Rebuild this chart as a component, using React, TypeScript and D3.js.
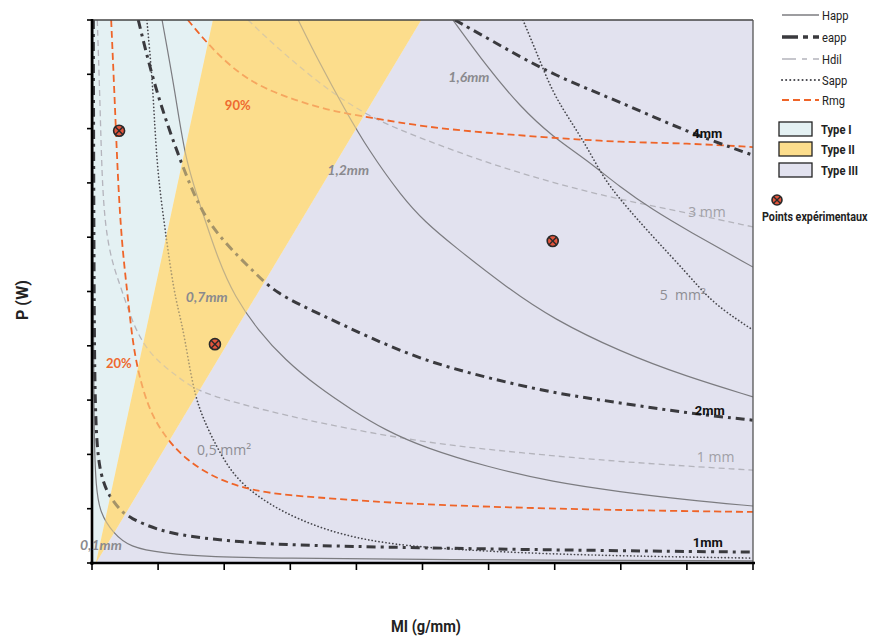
import React from 'react';
import * as d3 from 'd3';

type Pt = [number, number];

// ---------- data (in axis units 0..10) ----------
const xTicks: number[] = [0, 1, 2, 3, 4, 5, 6, 7, 8, 9, 10];
const yTicks: number[] = [0, 1, 2, 3, 4, 5, 6, 7, 8, 9, 10];

const happ01: Pt[] = [[0.015, 10], [0.015, 4.84], [0.03, 2.27], [0.06, 1.4], [0.12, 0.92], [0.32, 0.55], [0.57, 0.29], [1.07, 0.18], [1.83, 0.11], [2.84, 0.09], [4.96, 0.06], [10, 0.04]];
const happ07: Pt[] = [[1.06, 10], [1.26, 8.66], [1.41, 7.42], [1.66, 6.5], [1.91, 5.58], [2.16, 4.9], [2.51, 4.29], [2.92, 3.74], [3.42, 3.24], [3.93, 2.82], [4.43, 2.45], [5.04, 2.12], [5.98, 1.77], [6.97, 1.49], [7.99, 1.31], [9.0, 1.16], [10, 1.05]];
const happ12: Pt[] = [[3.12, 10], [3.42, 9.26], [3.83, 8.34], [4.18, 7.61], [4.69, 6.74], [5.04, 6.28], [5.46, 5.85], [6.29, 5.06], [6.97, 4.5], [7.99, 3.89], [9.0, 3.43], [10, 3.06]];
const happ16: Pt[] = [[5.46, 10], [5.98, 9.13], [6.48, 8.4], [6.97, 7.85], [7.49, 7.42], [7.99, 6.92], [8.49, 6.5], [9.0, 6.13], [10, 5.45]];

const eapp1: Pt[] = [[0.02, 10], [0.03, 4.84], [0.05, 2.08], [0.17, 1.47], [0.27, 1.22], [0.42, 0.98], [0.57, 0.83], [0.98, 0.61], [1.48, 0.48], [2.24, 0.39], [2.92, 0.33], [4.93, 0.28], [6.97, 0.24], [10, 0.2]];
const eapp2: Pt[] = [[0.7, 10], [0.91, 8.95], [1.15, 8.03], [1.41, 7.18], [1.66, 6.45], [2.01, 5.89], [2.42, 5.4], [2.77, 4.97], [3.42, 4.6], [4.18, 4.16], [5.04, 3.72], [5.98, 3.41], [6.97, 3.13], [7.99, 2.95], [9.0, 2.76], [10, 2.63]];
const eapp4: Pt[] = [[5.49, 10], [6.22, 9.5], [6.97, 8.99], [7.99, 8.49], [9.0, 7.94], [10, 7.51]];

const hdil1: Pt[] = [[0.08, 10], [0.12, 8.53], [0.15, 7.11], [0.2, 6.19], [0.3, 5.54], [0.45, 5.03], [0.65, 4.29], [0.91, 3.79], [1.3, 3.43], [1.6, 3.15], [2.42, 2.87], [3.42, 2.58], [5.04, 2.21], [6.48, 2.03], [7.99, 1.86], [10, 1.71]];
const hdil3: Pt[] = [[2.36, 10], [2.72, 9.58], [3.42, 8.84], [4.18, 8.21], [5.04, 7.79], [5.98, 7.37], [6.97, 7.0], [7.99, 6.69], [9.0, 6.45], [10, 6.19]];

const sapp05: Pt[] = [[0.83, 10], [0.91, 8.95], [0.95, 8.03], [1.0, 7.11], [1.1, 6.19], [1.24, 4.97], [1.36, 4.42], [1.45, 3.79], [1.56, 3.06], [1.71, 2.58], [1.91, 2.08], [2.16, 1.58], [2.51, 1.22], [2.92, 0.92], [3.42, 0.66], [3.93, 0.48], [4.43, 0.37], [5.04, 0.28], [6.97, 0.15], [10, 0.09]];
const sapp5: Pt[] = [[6.52, 10], [6.73, 9.39], [6.97, 8.66], [7.23, 8.16], [7.49, 7.66], [7.73, 7.11], [7.99, 6.69], [8.49, 6.0], [9.0, 5.34], [9.35, 4.84], [9.76, 4.48], [10, 4.29]];

const rmg20: Pt[] = [[0.29, 10], [0.35, 8.34], [0.39, 7.11], [0.45, 5.89], [0.53, 5.03], [0.61, 4.11], [0.7, 3.5], [0.85, 2.87], [1.06, 2.39], [1.41, 1.9], [1.91, 1.53], [2.42, 1.34], [2.92, 1.25], [3.93, 1.16], [5.04, 1.07], [7.49, 0.98], [10, 0.94]];
const rmg90: Pt[] = [[1.45, 10], [1.79, 9.5], [2.24, 8.99], [2.66, 8.71], [3.15, 8.49], [3.68, 8.31], [4.18, 8.21], [5.04, 8.03], [5.98, 7.92], [6.97, 7.83], [7.99, 7.75], [9.0, 7.73], [10, 7.66]];

const expPoints: Pt[] = [[0.41, 7.96], [1.86, 4.03], [6.97, 5.93]];

const typeI: Pt[] = [[0, 10], [1.83, 10], [0.06, 0], [0, 0]];
const typeII: Pt[] = [[0.06, 0], [1.83, 10], [4.98, 10]];
const typeIII: Pt[] = [[4.98, 10], [10, 10], [10, 0], [0.06, 0]];

type Family = 'Happ' | 'eapp' | 'Hdil' | 'Sapp' | 'Rmg';
const curves: { family: Family; data: Pt[]; label: string; at: Pt }[] = [
  { family: 'Hdil', data: hdil1, label: '1 mm', at: [9.15, 1.86] },
  { family: 'Hdil', data: hdil3, label: '3 mm', at: [9.02, 6.37] },
  { family: 'Happ', data: happ01, label: '0,1mm', at: [-0.18, 0.24] },
  { family: 'Happ', data: happ07, label: '0,7mm', at: [1.42, 4.81] },
  { family: 'Happ', data: happ12, label: '1,2mm', at: [3.56, 7.15] },
  { family: 'Happ', data: happ16, label: '1,6mm', at: [5.39, 8.86] },
  { family: 'Sapp', data: sapp05, label: '0,5 mm²', at: [1.59, 1.99] },
  { family: 'Sapp', data: sapp5, label: '5  mm²', at: [8.59, 4.84] },
  { family: 'Rmg', data: rmg20, label: '20%', at: [0.21, 3.59] },
  { family: 'Rmg', data: rmg90, label: '90%', at: [2.01, 8.34] },
  { family: 'eapp', data: eapp1, label: '1mm', at: [9.09, 0.29] },
  { family: 'eapp', data: eapp2, label: '2mm', at: [9.12, 2.73] },
  { family: 'eapp', data: eapp4, label: '4mm', at: [9.08, 7.83] },
];

const legendLines: Family[] = ['Happ', 'eapp', 'Hdil', 'Sapp', 'Rmg'];
const legendAreas: string[] = ['Type I', 'Type II', 'Type III'];

// ---------- styles ----------
const lineStyle: Record<Family, { stroke: string; width: number; dash: string; cap: string }> = {
  Happ: { stroke: '#7c7c80', width: 1.2, dash: '', cap: 'butt' },
  eapp: { stroke: '#3a3a3e', width: 3, dash: '9,5,3,5', cap: 'butt' },
  Hdil: { stroke: '#b4b4bc', width: 1.3, dash: '6,4', cap: 'butt' },
  Sapp: { stroke: '#46464c', width: 1.7, dash: '0.1,3.4', cap: 'round' },
  Rmg: { stroke: '#ef6428', width: 1.8, dash: '7,4', cap: 'butt' },
};
const labelStyle: Record<Family, { fill: string; weight: string; style: string; size: number; family: string }> = {
  Happ: { fill: '#8a8a8e', weight: 'bold', style: 'italic', size: 14, family: 'Lato, "Open Sans", sans-serif' },
  eapp: { fill: '#111', weight: 'bold', style: 'normal', size: 13, family: 'Roboto, sans-serif' },
  Hdil: { fill: '#a0a0a6', weight: 'normal', style: 'normal', size: 14, family: '"Open Sans", sans-serif' },
  Sapp: { fill: '#8e8e94', weight: 'normal', style: 'normal', size: 14, family: '"Open Sans", sans-serif' },
  Rmg: { fill: '#ee6a30', weight: 'bold', style: 'normal', size: 13, family: 'Lato, "Open Sans", sans-serif' },
};
const areaFill = ['#e4f1f3', '#fcdd8c', '#e2e2ef'];
const narrow = 'Roboto, "Liberation Sans", sans-serif';

const W = 882, H = 639;
const L = 92, R = 753, T = 20, B = 563;

export default function App() {
  const x = d3.scaleLinear().domain([0, 10]).range([L, R]);
  const y = d3.scaleLinear().domain([0, 10]).range([B, T]);
  const line = d3.line<Pt>().x(d => x(d[0])).y(d => y(d[1])).curve(d3.curveBasis);
  const poly = (p: Pt[]) => 'M' + p.map(d => `${x(d[0])},${y(d[1])}`).join('L') + 'Z';

  const Marker = ({ cx, cy, r }: { cx: number; cy: number; r: number }) => {
    const k = r * 0.72;
    return (
      <g>
        <circle cx={cx} cy={cy} r={r} fill="#e4553c" stroke="#2a2a2a" strokeWidth={1.6} />
        <line x1={cx - k} y1={cy - k} x2={cx + k} y2={cy + k} stroke="#2a2a2a" strokeWidth={1.4} />
        <line x1={cx - k} y1={cy + k} x2={cx + k} y2={cy - k} stroke="#2a2a2a" strokeWidth={1.4} />
      </g>
    );
  };

  const legendY = [15, 37, 59, 80, 100];
  const areaY = [122, 142, 163];
  const NText = ({ tx, ty, size, bold, anchor, children }: any) => (
    <text transform={`translate(${tx},${ty}) scale(0.86,1)`} textAnchor={anchor || 'start'} fontFamily={narrow}
      fontWeight={bold ? 'bold' : 'normal'} fontSize={size} fill="#222">{children}</text>
  );

  return (
    <svg width={W} height={H} style={{ position: 'absolute', left: 0, top: 0, background: '#fff' }}>
      <defs>
        <clipPath id="plot">
          <rect x={L} y={T} width={R - L} height={B - T} />
        </clipPath>
      </defs>
      {/* regions */}
      <path d={poly(typeI)} fill={areaFill[0]} />
      <path d={poly(typeIII)} fill={areaFill[2]} />
      <path d={poly(typeII)} fill={areaFill[1]} />
      {/* curves */}
      <g clipPath="url(#plot)">
        {curves.map((c, i) => {
          const s = lineStyle[c.family];
          return (
            <path key={i} d={line(c.data) || ''} fill="none" stroke={s.stroke} strokeWidth={s.width}
              strokeDasharray={s.dash || undefined} strokeLinecap={s.cap as any} />
          );
        })}
      </g>
      {/* yellow tint over curves */}
      <path d={poly(typeII)} fill={areaFill[1]} fillOpacity={0.55} />
      {/* frame */}
      <line x1={L} y1={T} x2={R} y2={T} stroke="#444" strokeWidth={1.5} />
      <line x1={R} y1={T} x2={R} y2={B} stroke="#555" strokeWidth={1.3} />
      <line x1={L} y1={T - 1} x2={L} y2={B + 2} stroke="#000" strokeWidth={2.6} />
      <line x1={L - 2} y1={B} x2={R + 2} y2={B} stroke="#000" strokeWidth={2.6} />
      {yTicks.map(t => (
        <line key={'y' + t} x1={L - 5} x2={L} y1={y(t)} y2={y(t)} stroke="#000" strokeWidth={1.6} />
      ))}
      {xTicks.map(t => (
        <line key={'x' + t} x1={x(t)} x2={x(t)} y1={B} y2={B + 7} stroke="#000" strokeWidth={1.6} />
      ))}
      {/* curve labels */}
      {curves.map((c, i) => {
        const s = labelStyle[c.family];
        return (
          <text key={'l' + i} x={x(c.at[0])} y={y(c.at[1])} fill={s.fill} fontWeight={s.weight}
            fontStyle={s.style} fontSize={s.size} fontFamily={s.family} style={{ whiteSpace: 'pre' }}>{c.label}</text>
        );
      })}
      {/* experimental points */}
      {expPoints.map((p, i) => <Marker key={'p' + i} cx={x(p[0])} cy={y(p[1])} r={5.5} />)}
      {/* axis titles */}
      <NText tx={426} ty={632} size={17} bold anchor="middle">MI (g/mm)</NText>
      <text transform="translate(28,300) rotate(-90)" textAnchor="middle" fontFamily={narrow} fontWeight="bold" fontSize={16} fill="#222">P (W)</text>
      {/* legend */}
      {legendLines.map((f, i) => {
        const s = lineStyle[f];
        const dash = f === 'eapp' ? '16,5,5,5' : f === 'Hdil' ? '14,6,5,6' : f === 'Sapp' ? '0.1,4' : s.dash;
        return (
          <g key={'lg' + f}>
            <line x1={782} x2={819} y1={legendY[i]} y2={legendY[i]} stroke={s.stroke}
              strokeWidth={f === 'Sapp' ? 2 : f === 'eapp' ? 3.5 : s.width + 0.3} strokeDasharray={dash || undefined}
              strokeLinecap={s.cap as any} />
            <NText tx={822} ty={legendY[i] + 4.5} size={13}>{f}</NText>
          </g>
        );
      })}
      {legendAreas.map((a, i) => (
        <g key={'la' + i}>
          <rect x={779} y={areaY[i]} width={33} height={14} fill={areaFill[i]} stroke="#222" strokeWidth={1.3} />
          <NText tx={821} ty={areaY[i] + 11.5} size={13} bold>{a}</NText>
        </g>
      ))}
      <Marker cx={777} cy={200} r={5} />
      <NText tx={762} ty={221} size={12.5} bold>Points expérimentaux</NText>
    </svg>
  );
}
